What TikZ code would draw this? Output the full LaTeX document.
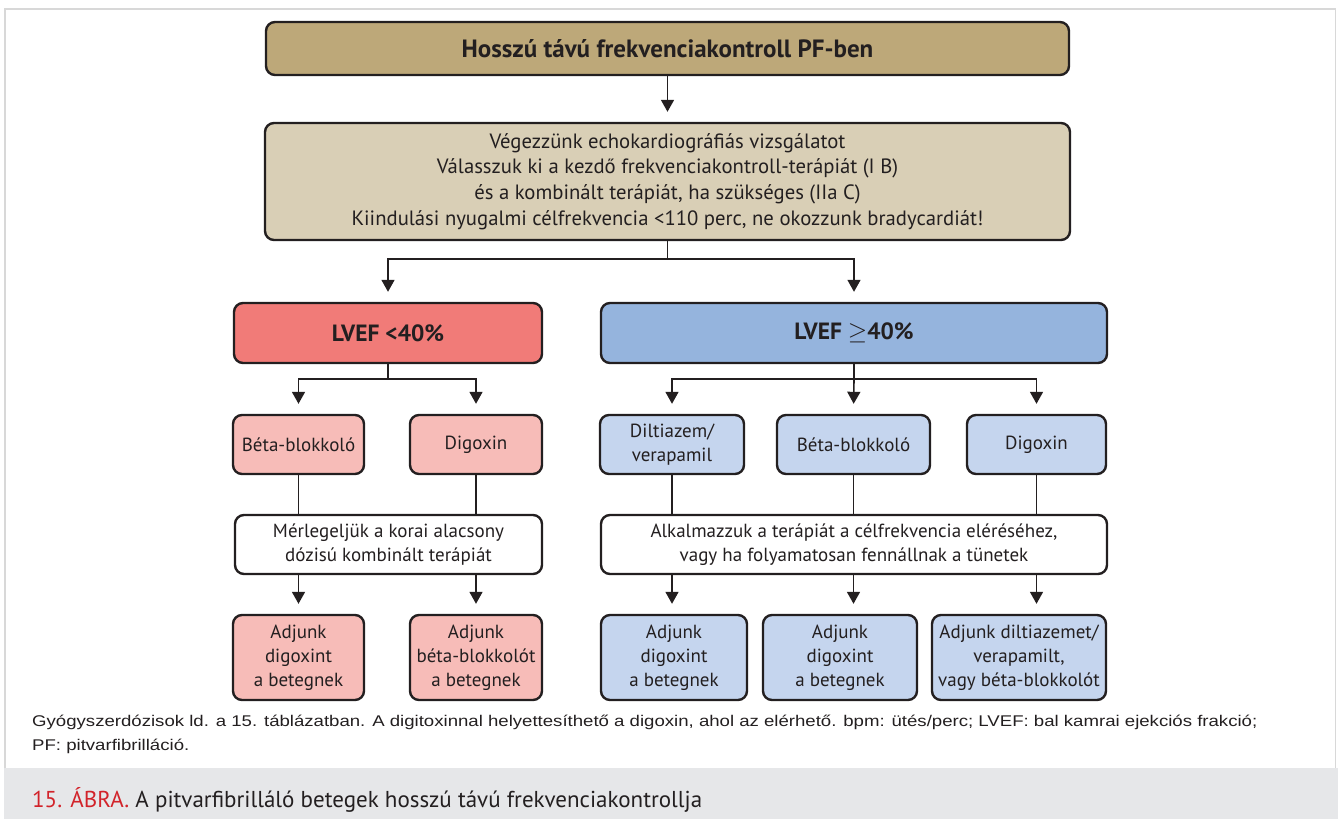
\documentclass[tikz,border=0pt]{standalone}
\usepackage{fontspec}
\setmainfont{PT Sans}
\newfontfamily\notefont[FakeStretch=1.2]{Liberation Sans}
\usetikzlibrary{arrows.meta,calc}
\definecolor{ink}{RGB}{35,31,32}
\definecolor{tandark}{RGB}{189,168,121}
\definecolor{tanlight}{RGB}{217,207,182}
\definecolor{redmain}{RGB}{241,123,120}
\definecolor{redlight}{RGB}{247,188,184}
\definecolor{bluemain}{RGB}{149,180,221}
\definecolor{bluelight}{RGB}{197,213,238}
\definecolor{framegray}{RGB}{216,216,216}
\definecolor{bandgray}{RGB}{230,231,233}
\definecolor{capred}{RGB}{210,35,42}
\tikzset{
  box/.style={draw=ink, line width=2.4pt, rounded corners=9pt, align=center,
    inner sep=0pt, text=ink, font=\fontsize{19}{24}\selectfont},
  conn/.style={draw=ink, line width=1.6pt},
  arr/.style={conn, -{Triangle[width=13pt,length=12pt]}, shorten >=10pt},
}
\begin{document}
\begin{tikzpicture}[x=1pt,y=-1pt]
\useasboundingbox (0,0) rectangle (1338,819);
% page frame and caption band
\fill[bandgray] (4,768) rectangle (1338,819);
\draw[framegray, line width=1.5pt] (4.75,768) -- (4.75,8.75) -- (1335.25,8.75) -- (1335.25,768);

% top boxes
\node[box, fill=tandark, minimum width=803pt, minimum height=53pt,
  font=\fontsize{25}{28}\selectfont\bfseries] (title) at (667.5,48.5)
  {Hosszú távú frekvenciakontroll PF-ben};
\node[box, fill=tanlight, minimum width=805pt, minimum height=117pt,
  font=\fontsize{20.7}{25.7}\selectfont] (echo) at (667.5,181.5)
  {Végezzünk echokardiográfiás vizsgálatot\\
   Válasszuk ki a kezdő frekvenciakontroll-terápiát (I B)\\
   és a kombinált terápiát, ha szükséges (IIa C)\\
   Kiindulási nyugalmi célfrekvencia <110 perc, ne okozzunk bradycardiát!};

% LVEF split
\node[box, fill=redmain, minimum width=308pt, minimum height=60pt,
  font=\fontsize{23.5}{27}\selectfont\bfseries] (lvefL) at (388,333) {LVEF <40\%};
\node[box, fill=bluemain, minimum width=506pt, minimum height=60pt,
  font=\fontsize{23.5}{27}\selectfont\bfseries] (lvefR) at (854,333) {LVEF $\geq$40\%};

% first-line drugs
\node[box, fill=redlight, minimum width=131pt, minimum height=59pt] (bbL) at (298.5,444.5) {Béta-blokkoló};
\node[box, fill=redlight, minimum width=132pt, minimum height=59pt] (dgL) at (476,444.5) {Digoxin};
\node[box, fill=bluelight, minimum width=144pt, minimum height=59pt] (dilt) at (672,444.5) {Diltiazem/\\verapamil};
\node[box, fill=bluelight, minimum width=153pt, minimum height=59pt] (bbR) at (853.5,444.5) {Béta-blokkoló};
\node[box, fill=bluelight, minimum width=139pt, minimum height=59pt] (dgR) at (1036.5,444.5) {Digoxin};

% combination advice
\node[box, fill=white, minimum width=307pt, minimum height=59pt] (combL) at (388.5,544.5)
  {Mérlegeljük a korai alacsony\\dózisú kombinált terápiát};
\node[box, fill=white, minimum width=506pt, minimum height=59pt] (combR) at (854,544.5)
  {Alkalmazzuk a terápiát a célfrekvencia eléréséhez,\\vagy ha folyamatosan fennállnak a tünetek};

% add-on therapy
\node[box, fill=redlight, minimum width=131pt, minimum height=85pt] (addL1) at (298.5,657.5)
  {Adjunk\\digoxint\\a betegnek};
\node[box, fill=redlight, minimum width=132pt, minimum height=85pt] (addL2) at (476,657.5)
  {Adjunk\\béta-blokkolót\\a betegnek};
\node[box, fill=bluelight, minimum width=146pt, minimum height=85pt] (addR1) at (674,657.5)
  {Adjunk\\digoxint\\a betegnek};
\node[box, fill=bluelight, minimum width=154pt, minimum height=85pt] (addR2) at (840,657.5)
  {Adjunk\\digoxint\\a betegnek};
\node[box, fill=bluelight, minimum width=174pt, minimum height=85pt] (addR3) at (1019,657.5)
  {Adjunk diltiazemet/\\verapamilt,\\vagy béta-blokkolót};

% connectors
\draw[arr] (title.south) -- (echo.north);
\draw[conn] (echo.south) -- ++(0,18) coordinate (echoJ);
\draw[arr] (echoJ) -| (lvefL.north);
\draw[arr] (echoJ) -| (lvefR.north);

\draw[conn] (lvefL.south) -- ++(0,15) coordinate (lJ);
\draw[arr] (lJ) -| (bbL.north);
\draw[arr] (lJ) -| (dgL.north);
\draw[conn] (lvefR.south) -- ++(0,15) coordinate (rJ);
\draw[arr] (rJ) -| (dilt.north);
\draw[arr] (rJ) -- (bbR.north);
\draw[arr] (rJ) -| (dgR.north);

\draw[conn] (bbL.south) -- (combL.north -| bbL.south);
\draw[conn] (dgL.south) -- (combL.north -| dgL.south);
\draw[conn] (dilt.south) -- (combR.north -| dilt.south);
\draw[conn] (bbR.south) -- (combR.north -| bbR.south);
\draw[conn] (dgR.south) -- (combR.north -| dgR.south);

\draw[arr] (combL.south -| bbL.south) -- (addL1.north -| bbL.south);
\draw[arr] (combL.south -| dgL.south) -- (addL2.north -| dgL.south);
\draw[arr] (combR.south -| dilt.south) -- (addR1.north -| dilt.south);
\draw[arr] (combR.south -| bbR.south) -- (addR2.north -| bbR.south);
\draw[arr] (combR.south -| dgR.south) -- (addR3.north -| dgR.south);

% notes and figure caption
\node[anchor=base west, inner sep=0pt, text=ink, font=\notefont\fontsize{15.5}{18}\selectfont] (note1) at (32,726)
  {Gyógyszerdózisok ld. a 15. táblázatban. A digitoxinnal helyettesíthető a digoxin, ahol az elérhető. bpm: ütés/perc; LVEF: bal kamrai ejekciós frakció;};
\node[anchor=base west, inner sep=0pt, text=ink, font=\notefont\fontsize{15.5}{18}\selectfont] (note2) at (32,750)
  {PF: pitvarfibrilláció.};
\node[anchor=base west, inner sep=0pt, text=ink, font=\fontsize{23}{26}\selectfont] (cap) at (32,807)
  {\textcolor{capred}{15. ÁBRA.} A pitvarfibrilláló betegek hosszú távú frekvenciakontrollja};
\end{tikzpicture}
\end{document}
